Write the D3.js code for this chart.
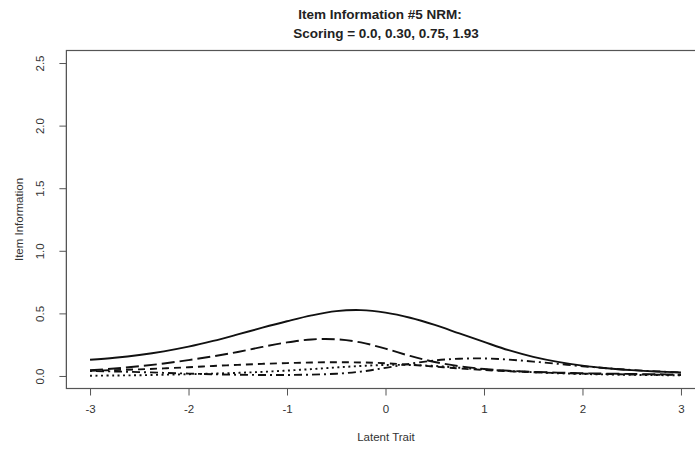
<!DOCTYPE html>
<html>
<head>
<meta charset="utf-8">
<script src="https://cdn.jsdelivr.net/npm/d3@7"></script>
<style>
  body { margin: 0; background: #fff; }
  svg { display: block; font-family: "Liberation Sans", Arial, sans-serif; }
</style>
</head>
<body>
<div id="chart"></div>
<script>
// latent trait grid (theta)
const theta = [-3, -2.75, -2.5, -2.25, -2, -1.75, -1.5, -1.25, -1, -0.75, -0.5, -0.25,
  0, 0.25, 0.5, 0.75, 1, 1.25, 1.5, 1.75, 2, 2.25, 2.5, 2.75, 3];

// item information (total) and category information
const infoTotal = [0.130, 0.146, 0.168, 0.197, 0.234, 0.280, 0.332, 0.386, 0.437, 0.484, 0.518, 0.526,
  0.506, 0.465, 0.408, 0.340, 0.272, 0.206, 0.153, 0.113, 0.083, 0.062, 0.047, 0.036, 0.028];
const infoCat1 = [0.046, 0.060, 0.078, 0.100, 0.127, 0.157, 0.192, 0.232, 0.268, 0.292, 0.293, 0.268,
  0.218, 0.160, 0.112, 0.078, 0.056, 0.042, 0.033, 0.027, 0.022, 0.019, 0.016, 0.014, 0.012];
const infoCat2 = [0.042, 0.047, 0.053, 0.061, 0.070, 0.080, 0.089, 0.097, 0.103, 0.108, 0.110, 0.108,
  0.102, 0.090, 0.075, 0.060, 0.048, 0.038, 0.030, 0.024, 0.019, 0.015, 0.012, 0.010, 0.008];
const infoCat3 = [0.002, 0.004, 0.006, 0.010, 0.014, 0.019, 0.025, 0.033, 0.043, 0.055, 0.068, 0.080,
  0.088, 0.088, 0.080, 0.066, 0.052, 0.040, 0.030, 0.022, 0.016, 0.012, 0.009, 0.007, 0.005];
const infoCat4 = [0.040, 0.036, 0.031, 0.025, 0.019, 0.014, 0.010, 0.008, 0.008, 0.011, 0.018, 0.035,
  0.065, 0.098, 0.124, 0.138, 0.140, 0.131, 0.115, 0.097, 0.078, 0.062, 0.048, 0.037, 0.028];

const xTicks = [-3, -2, -1, 0, 1, 2, 3];
const yTicks = [0, 0.5, 1, 1.5, 2, 2.5];

const width = 695, height = 451;
// R-style plot region (axes extended 4% past the data range)
const plotLeft = 66.4, plotRight = 704.6, plotTop = 50.5, plotBottom = 388.5;

const svg = d3.select('#chart').append('svg')
  .attr('width', width)
  .attr('height', height);

const x = d3.scaleLinear().domain([-3.24, 3.24]).range([plotLeft, plotRight]);
const y = d3.scaleLinear().domain([-0.1, 2.6]).range([plotBottom, plotTop]);

// title
svg.append('text')
  .attr('x', 380).attr('y', 19)
  .attr('text-anchor', 'middle')
  .style('font-size', '13.5px').style('font-weight', 'bold').style('fill', '#222')
  .text('Item Information #5 NRM:');
svg.append('text')
  .attr('x', 386).attr('y', 38)
  .attr('text-anchor', 'middle')
  .style('font-size', '13.5px').style('font-weight', 'bold').style('fill', '#222')
  .text('Scoring = 0.0, 0.30, 0.75, 1.93');

// x axis (plain hyphen minus like R)
const xAxis = svg.append('g')
  .attr('transform', `translate(0,${plotBottom})`)
  .call(d3.axisBottom(x).tickValues(xTicks).tickSize(7).tickPadding(9).tickFormat(d => String(d)));
xAxis.select('.domain').attr('d', `M${x(-3)},0H${x(3)}`).attr('stroke', '#555');
xAxis.selectAll('.tick line').attr('stroke', '#555');
xAxis.selectAll('.tick text').style('font-size', '11.5px').style('fill', '#333').style('font-family', 'inherit');

// y axis, with rotated labels like R
const yAxis = svg.append('g')
  .attr('transform', `translate(${plotLeft},0)`)
  .call(d3.axisLeft(y).tickValues(yTicks).tickSize(7).tickFormat(d3.format('.1f')));
yAxis.select('.domain').attr('d', `M0,${y(0)}V${y(2.5)}`).attr('stroke', '#555');
yAxis.selectAll('.tick line').attr('stroke', '#555');
yAxis.selectAll('.tick text')
  .attr('x', null).attr('dy', null)
  .attr('text-anchor', 'middle')
  .attr('transform', 'translate(-22,0) rotate(-90)')
  .style('font-size', '11.5px').style('fill', '#333').style('font-family', 'inherit');

// plot box
svg.append('rect')
  .attr('x', plotLeft).attr('y', plotTop)
  .attr('width', plotRight - plotLeft).attr('height', plotBottom - plotTop)
  .attr('fill', 'none').attr('stroke', '#555').attr('stroke-width', 1.2);

// axis titles
svg.append('text')
  .attr('x', 386).attr('y', 441)
  .attr('text-anchor', 'middle')
  .style('font-size', '11.5px').style('fill', '#333')
  .text('Latent Trait');
svg.append('text')
  .attr('transform', `translate(23,${(plotTop + plotBottom) / 2}) rotate(-90)`)
  .attr('text-anchor', 'middle')
  .style('font-size', '11.5px').style('fill', '#333')
  .text('Item Information');

// curves
const series = [
  { values: infoTotal, dash: null },
  { values: infoCat1, dash: '13,5' },
  { values: infoCat2, dash: '7,5' },
  { values: infoCat3, dash: '2,3.5' },
  { values: infoCat4, dash: '2,4,8,4' }
];

const line = d3.line()
  .x((d, i) => x(theta[i]))
  .y(d => y(d))
  .curve(d3.curveCatmullRom);

svg.append('g').selectAll('path')
  .data(series)
  .join('path')
  .attr('d', d => line(d.values))
  .attr('fill', 'none')
  .attr('stroke', '#111')
  .attr('stroke-width', 1.9)
  .attr('stroke-dasharray', d => d.dash);
</script>
</body>
</html>
